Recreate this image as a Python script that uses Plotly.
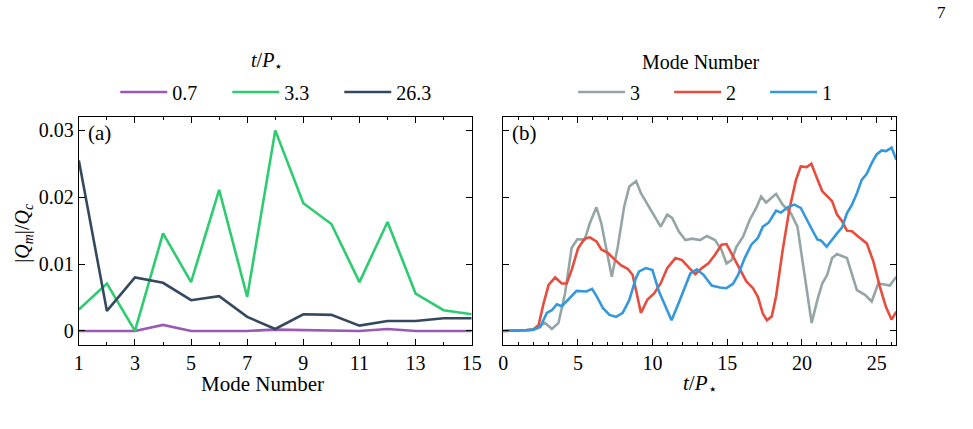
import plotly.graph_objects as go

# ---------------- Panel (a) data ----------------
modes = list(range(1, 16))
a_07 = [0.0, 0.0, 0.0, 0.0009, 0.0, 0.0, 0.0, 0.0002, 0.0001, 0.0, 0.0, 0.0003, 0.0, 0.0, 0.0]
a_33 = [0.0032, 0.0071, 0.0, 0.0146, 0.0073, 0.0211, 0.0051, 0.0300, 0.0191, 0.0160, 0.0073, 0.0163, 0.0056, 0.0031, 0.0025]
a_263 = [0.0255, 0.0030, 0.0080, 0.0072, 0.0046, 0.0052, 0.0021, 0.0003, 0.0025, 0.0024, 0.0008, 0.0015, 0.0015, 0.0019, 0.0019]
legend_a_labels = ["0.7", "3.3", "26.3"]

# ---------------- Panel (b) data ----------------
t3 = [0, 0.5, 1.0, 1.5, 2.0, 2.37, 2.8, 3.26, 3.7, 4.14, 4.58, 4.96, 5.46, 5.8, 6.24, 6.57, 6.9, 7.27,
      7.67, 8.1, 8.44, 8.77, 8.9, 9.22, 9.66, 10.1, 10.54, 10.98, 11.31, 11.75, 12.2, 12.64, 13.19,
      13.63, 14.18, 14.62, 14.95, 15.29, 15.62, 16.06, 16.5, 16.94, 17.27, 17.6, 18.05, 18.27, 18.71,
      19.26, 19.7, 20.14, 20.65, 21.03, 21.36, 21.69, 22.02, 22.35, 23.01, 23.68, 24.22, 24.67, 25.11,
      25.44, 25.88, 26.32]
m3 = [0.0, 0.0, 0.0, 0.0001, 0.0002, 0.00065, 0.0012, 0.0003, 0.0012, 0.0056, 0.0124, 0.0137, 0.0137,
      0.0161, 0.0185, 0.0161, 0.0121, 0.0081, 0.0126, 0.0186, 0.0216, 0.0222, 0.0224, 0.0206, 0.0189,
      0.0171, 0.0156, 0.0174, 0.0169, 0.0149, 0.0136, 0.0138, 0.0136, 0.0142, 0.0136, 0.0121, 0.0101,
      0.0106, 0.0126, 0.0141, 0.0166, 0.0184, 0.0201, 0.0192, 0.0201, 0.0205, 0.0189, 0.0176, 0.0156,
      0.0091, 0.0012, 0.0046, 0.0071, 0.0084, 0.0109, 0.0115, 0.0109, 0.0061, 0.0054, 0.0044, 0.0071,
      0.0070, 0.0068, 0.0081]

t2 = [0, 0.5, 1.0, 1.5, 2.0, 2.37, 2.7, 3.04, 3.48, 3.92, 4.25, 4.58, 5.02, 5.46, 5.8, 6.24, 6.57, 7.0,
      7.45, 7.9, 8.33, 8.66, 8.9, 9.22, 9.66, 10.1, 10.54, 10.98, 11.53, 11.97, 12.42, 12.86, 13.3,
      13.74, 14.18, 14.62, 14.95, 15.29, 15.73, 16.28, 16.72, 17.05, 17.38, 17.66, 17.98, 18.27, 18.71,
      19.15, 19.6, 19.92, 20.32, 20.63, 20.91, 21.36, 21.8, 22.02, 22.35, 22.69, 23.01, 23.35, 23.78,
      24.34, 24.78, 25.22, 25.62, 26.0, 26.32]
m2 = [0.0, 0.0, 0.0, 0.0001, 0.0002, 0.0009, 0.0041, 0.0069, 0.0080, 0.0071, 0.0071, 0.0091, 0.0124,
      0.0138, 0.0140, 0.0134, 0.0122, 0.0117, 0.0107, 0.0098, 0.0093, 0.0084, 0.0060, 0.0027, 0.0047,
      0.0056, 0.0071, 0.0094, 0.0109, 0.0106, 0.0095, 0.0085, 0.0094, 0.0101, 0.0114, 0.0129, 0.0130,
      0.0116, 0.0096, 0.0074, 0.0064, 0.0051, 0.0026, 0.0016, 0.0022, 0.0052, 0.0121, 0.0181, 0.0226,
      0.0246, 0.0245, 0.0250, 0.0234, 0.0209, 0.0199, 0.0194, 0.0174, 0.0164, 0.0150, 0.0149, 0.0141,
      0.0131, 0.0104, 0.0066, 0.0036, 0.0017, 0.0029]

t1 = [0, 0.5, 1.0, 1.5, 2.04, 2.48, 2.92, 3.26, 3.59, 3.92, 4.36, 4.91, 5.57, 5.95, 6.28, 6.68, 7.12,
      7.56, 8.0, 8.44, 8.88, 9.1, 9.55, 9.99, 10.43, 10.87, 11.27, 11.64, 12.09, 12.53, 12.97, 13.41,
      13.96, 14.51, 14.95, 15.4, 15.73, 16.17, 16.61, 17.05, 17.38, 17.77, 18.27, 18.6, 19.04, 19.48,
      19.92, 20.36, 20.69, 21.03, 21.29, 21.65, 22.02, 22.35, 22.69, 23.01, 23.35, 23.68, 24.0, 24.34,
      24.67, 25.0, 25.33, 25.62, 26.0, 26.32]
m1 = [0.0, 0.0, 0.0, 0.0001, 0.0002, 0.0006, 0.0027, 0.0031, 0.0040, 0.0037, 0.0047, 0.0060, 0.0059,
      0.0063, 0.0051, 0.0034, 0.0024, 0.0021, 0.0027, 0.0046, 0.0079, 0.0089, 0.0094, 0.0091, 0.0059,
      0.0036, 0.0016, 0.0036, 0.0061, 0.0086, 0.0092, 0.0084, 0.0068, 0.0065, 0.0064, 0.0071, 0.0084,
      0.0109, 0.0129, 0.0139, 0.0156, 0.0162, 0.0180, 0.0177, 0.0185, 0.0189, 0.0184, 0.0164, 0.0151,
      0.0137, 0.0135, 0.0126, 0.0137, 0.0146, 0.0155, 0.0176, 0.0189, 0.0206, 0.0226, 0.0235, 0.0251,
      0.0264, 0.0270, 0.0269, 0.0274, 0.0256]
legend_b_labels = ["3", "2", "1"]

FONT = "Liberation Serif"
colors_a = ["#9b59b6", "#2ecc71", "#34495e"]
colors_b = ["#95a5a6", "#e74c3c", "#3498db"]
LW = 2.6

fig = go.Figure()
for ys, name, c in zip([a_07, a_33, a_263], legend_a_labels, colors_a):
    fig.add_trace(go.Scatter(x=modes, y=ys, mode="lines", name=name,
                             line=dict(color=c, width=LW), xaxis="x", yaxis="y",
                             legend="legend"))
for ts, ys, name, c in zip([t3, t2, t1], [m3, m2, m1], legend_b_labels, colors_b):
    fig.add_trace(go.Scatter(x=ts, y=ys, mode="lines", name=name,
                             line=dict(color=c, width=LW), xaxis="x2", yaxis="y2",
                             legend="legend2"))

W, H = 973, 429
def px_x(p): return p / W
def px_y(p): return 1 - p / H

ydom = [px_y(345), px_y(117)]
yr = [-0.0021, 0.032]
axis_common = dict(showline=True, linecolor="black", linewidth=1.3, mirror="allticks",
                   ticks="inside", ticklen=6, tickwidth=1, tickcolor="black",
                   showgrid=False, zeroline=False,
                   tickfont=dict(family=FONT, size=20, color="black"))

fig.update_layout(
    width=W, height=H, margin=dict(l=0, r=0, t=0, b=0),
    paper_bgcolor="white", plot_bgcolor="white",
    font=dict(family=FONT, size=20, color="black"),
    xaxis=dict(domain=[px_x(75), px_x(474)], range=[1, 15], tickvals=[1, 3, 5, 7, 9, 11, 13, 15],
               minor=dict(dtick=1, tick0=1, ticks="inside", ticklen=3, tickcolor="black"),
               anchor="y", **axis_common),
    yaxis=dict(domain=ydom, range=yr, dtick=0.01, tick0=0, anchor="x", **axis_common),
    xaxis2=dict(domain=[px_x(506), px_x(905)], range=[0, 26.3], dtick=5, tick0=0,
                minor=dict(dtick=1, tick0=0, ticks="inside", ticklen=3, tickcolor="black"),
                anchor="y2", **axis_common),
    yaxis2=dict(domain=ydom, range=yr, dtick=0.01, tick0=0, anchor="x2",
                showticklabels=False, **axis_common),
    legend=dict(orientation="h", x=px_x(112), xanchor="left", y=px_y(92), yanchor="middle",
                font=dict(family=FONT, size=20), bgcolor="rgba(0,0,0,0)",
                itemwidth=47, entrywidthmode="pixels", entrywidth=50),
    legend2=dict(orientation="h", x=px_x(577), xanchor="left", y=px_y(92), yanchor="middle",
                 font=dict(family=FONT, size=20), bgcolor="rgba(0,0,0,0)",
                 itemwidth=47, entrywidthmode="pixels", entrywidth=34),
    showlegend=True,
)

annos = [
    dict(text="<i>t</i>/<i>P</i><sub>⋆</sub>", x=px_x(266), y=px_y(62), xanchor="center", yanchor="middle", font=dict(size=20)),
    dict(text="Mode Number", x=px_x(707), y=px_y(62), xanchor="center", yanchor="middle", font=dict(size=20)),
    dict(text="(a)", x=px_x(82), y=px_y(133), xanchor="left", yanchor="middle", font=dict(size=21)),
    dict(text="(b)", x=px_x(513), y=px_y(133), xanchor="left", yanchor="middle", font=dict(size=21)),
    dict(text="Mode Number", x=px_x(262), y=px_y(384), xanchor="center", yanchor="middle", font=dict(size=21)),
    dict(text="<i>t</i>/<i>P</i><sub>⋆</sub>", x=px_x(706), y=px_y(384), xanchor="center", yanchor="middle", font=dict(size=21)),
    dict(text="|<i>Q</i><sub><i>m</i></sub>|/<i>Q</i><sub><i>c</i></sub>", x=px_x(18), y=px_y(233),
         xanchor="center", yanchor="middle", textangle=-90, font=dict(size=20)),
    dict(text="7", x=px_x(951), y=px_y(13), xanchor="center", yanchor="middle", font=dict(size=17)),
]
for a in annos:
    a.update(xref="paper", yref="paper", showarrow=False)
    a["font"] = dict(family=FONT, color="black", size=a["font"]["size"])
fig.update_layout(annotations=annos)

fig.write_html("out.html")
